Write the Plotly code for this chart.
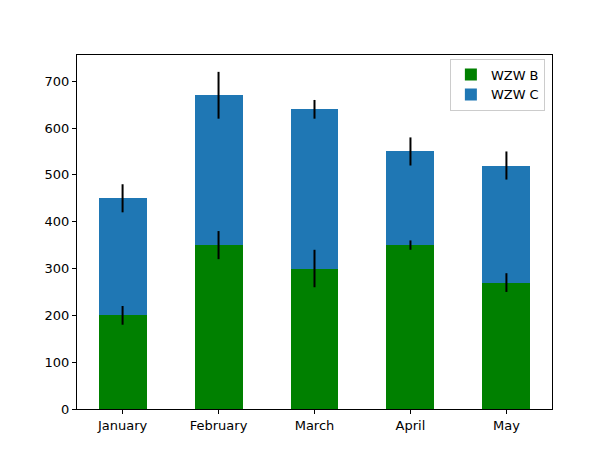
import plotly.graph_objects as go

months = ["January", "February", "March", "April", "May"]
wzw_b = [200, 350, 300, 350, 270]
wzw_c = [250, 320, 340, 200, 250]
err_b = [20, 30, 40, 10, 20]
err_c = [30, 50, 20, 30, 30]
y_ticks = [0, 100, 200, 300, 400, 500, 600, 700]

x_idx = list(range(len(months)))
top_c = [b + c for b, c in zip(wzw_b, wzw_c)]

fig = go.Figure()
fig.add_trace(go.Bar(
    x=x_idx, y=wzw_b, name="WZW B", width=0.5,
    marker=dict(color="green", line=dict(width=0)),
))
fig.add_trace(go.Bar(
    x=x_idx, y=wzw_c, name="WZW C", width=0.5,
    marker=dict(color="#1f77b4", line=dict(width=0)),
))
# error bars drawn on top of all bars
for ys, errs in ((wzw_b, err_b), (top_c, err_c)):
    fig.add_trace(go.Scatter(
        x=x_idx, y=ys, mode="markers", showlegend=False, hoverinfo="skip",
        marker=dict(size=1, opacity=0),
        error_y=dict(type="data", array=errs, color="black", thickness=2, width=0),
    ))

fig.update_layout(
    barmode="stack",
    width=614, height=461,
    margin=dict(l=77, r=62, t=55, b=52),
    paper_bgcolor="white", plot_bgcolor="white",
    font=dict(family="DejaVu Sans", size=13, color="black"),
    showlegend=True,
    legend=dict(
        x=0.985, y=0.99, xanchor="right", yanchor="top",
        bordercolor="#cccccc", borderwidth=1, bgcolor="rgba(255,255,255,0.8)",
        font=dict(size=13), traceorder="normal", tracegroupgap=0,
    ),
    xaxis=dict(
        range=[-0.475, 4.475], tickmode="array", tickvals=x_idx, ticktext=months,
        showgrid=False, zeroline=False, showline=True, linecolor="black", linewidth=1,
        mirror=True, ticks="outside", ticklen=4, tickcolor="black",
    ),
    yaxis=dict(
        range=[0, 756], tickmode="array", tickvals=y_ticks,
        showgrid=False, zeroline=False, showline=True, linecolor="black", linewidth=1,
        mirror=True, ticks="outside", ticklen=4, tickcolor="black",
    ),
)

fig.write_html("out.html")
